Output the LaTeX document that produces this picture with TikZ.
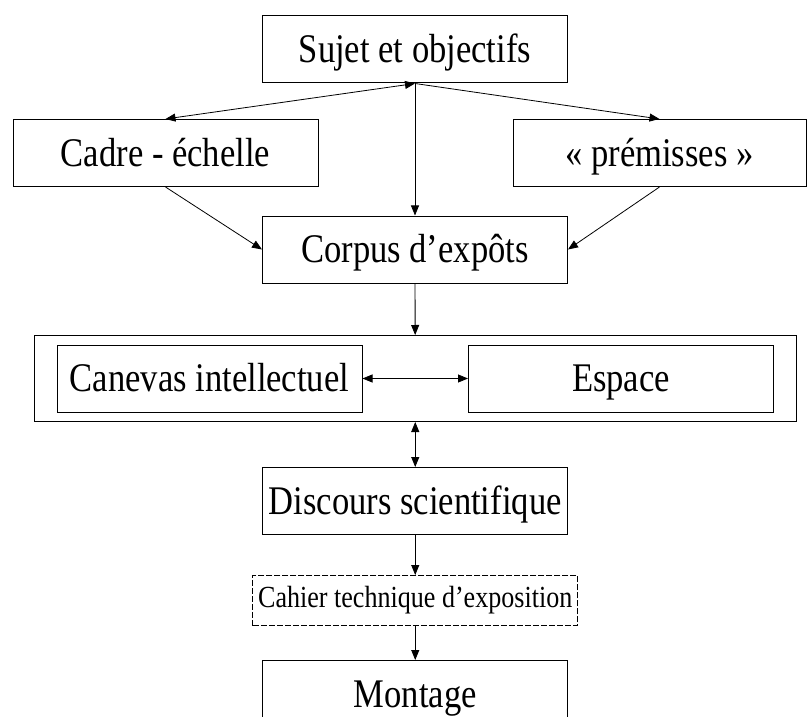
\documentclass[tikz,border=0pt]{standalone}
\usepackage{fontspec}
\setmainfont{Liberation Serif}[FakeStretch=0.85]
\usepackage{xcolor}
\usepackage{tikz}
\usetikzlibrary{positioning,arrows.meta,fit}

\begin{document}
\begin{tikzpicture}[
      x=0.75pt, y=-0.75pt,
      font=\fontsize{30.5}{34}\selectfont,
      etape/.style={draw, line width=0.75pt, align=center, inner sep=0pt,
                    text height=26pt, text depth=6pt,
                    minimum width=228.75pt, minimum height=50.25pt},
      cahier/.style={draw, line width=0.75pt, dash pattern=on 4.5pt off 1.5pt,
                    inner xsep=4pt, minimum height=37.5pt, font=\fontsize{23}{26}\selectfont},
      fleche/.style={-{Triangle[length=7.5pt, width=6pt]}, line width=0.6pt},
      dfleche/.style={{Triangle[length=7.5pt, width=6pt]}-{Triangle[length=7.5pt, width=6pt]}, line width=0.6pt}]
    \clip (0,0) rectangle (808,717);
    \node[etape] (suj) at (415,49.5) {Sujet et objectifs};
    \node[etape] (cad) at (165.5,153) {Cadre - échelle};
    \node[etape, minimum width=219.75pt] (pre) at (659.5,153) {« prémisses »};
    \node[etape, below=99pt of suj] (cor) {Corpus d’expôts};
    \node[etape] (can) at (209.5,378.5) {Canevas intellectuel};
    \node[etape] (esp) at (621,378.5) {Espace};
    \node[draw, line width=0.75pt, inner xsep=16.5pt, inner ysep=6.75pt, fit=(can)(esp)] (ens) {};
    \node[etape, below=33.75pt of ens] (dis) {Discours scientifique};
    \node[cahier, below=30pt of dis] (cah) {Cahier technique d’exposition};
    \node[etape, below=25.5pt of cah] (mon) {Montage};
    \draw[fleche] (suj.south) -- (cor.north);
    \draw[fleche] (suj.south) -- (pre.north);
    \draw[dfleche] (suj.south) -- (cad.north);
    \draw[fleche] (cad.south) -- (cor.west);
    \draw[fleche] (pre.south) -- (cor.east);
    \draw[fleche] (cor) -- (ens);
    \draw[dfleche] (can) -- (esp);
    \draw[dfleche] (ens) -- (dis);
    \draw[fleche] (dis) -- (cah);
    \draw[fleche] (cah) -- (mon);
  \end{tikzpicture}
\end{document}
